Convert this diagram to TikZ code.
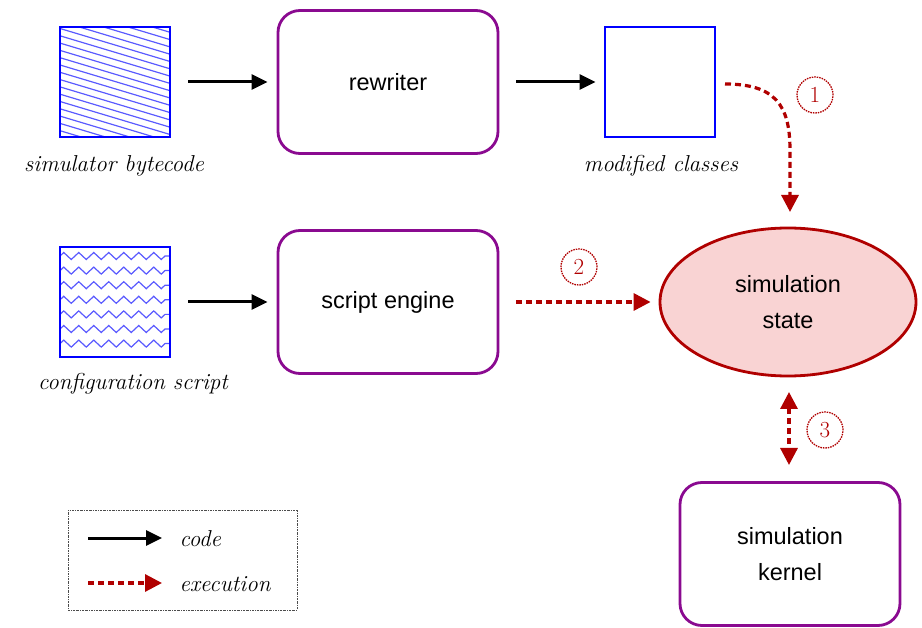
\documentclass[tikz,border=0pt]{standalone}
\usepackage{fontspec}
\setsansfont{Liberation Sans}
\usetikzlibrary{arrows.meta,decorations.pathmorphing,shapes.geometric}
\definecolor{exred}{HTML}{B00000}
\definecolor{pinkfill}{HTML}{F9D3D3}
\definecolor{boxpurple}{HTML}{8A0A90}
\definecolor{hatchblue}{HTML}{5A5AFF}
\tikzset{
  procbox/.style={draw=boxpurple, line width=2.8pt, rounded corners=22pt, minimum width=220pt, minimum height=143pt, font=\sffamily\fontsize{23.5}{36}\selectfont, align=center},
  filebox/.style={draw=blue, line width=2.8pt, minimum width=110pt, minimum height=110pt, inner sep=0pt},
  flabel/.style={font=\itshape\fontsize{23}{26}\selectfont\addfontfeature{LetterSpace=10}},
  codearrow/.style={-{Triangle[length=16pt,width=15pt]}, line width=3pt, black},
  execarrow/.style={-{Triangle[length=17pt,width=17pt]}, line width=3.2pt, exred, dash pattern=on 6pt off 4pt},
  stepnum/.style={circle, draw=exred, dash pattern=on 1.5pt off 1pt, line width=1.3pt, minimum size=36pt, inner sep=0pt, text=exred, font=\fontsize{23}{23}\selectfont}
}
\begin{document}
\begin{tikzpicture}[x=1pt,y=-1pt]
\useasboundingbox (0,0) rectangle (922,628);

% file hatching
\begin{scope}
  \clip (60,27) rectangle (170,137);
  \foreach \i in {-6,...,22} {
    \draw[hatchblue, line width=1.2pt] (55,{27+7.3*\i}) -- (175,{27+7.3*\i+36});
  }
\end{scope}
\begin{scope}
  \clip (60,247) rectangle (170,357);
  \foreach \i in {0,...,6} {
    \draw[hatchblue, line width=1.2pt, decorate, decoration={zigzag, segment length=15pt, amplitude=3.5pt}] (60,{256+14.6*\i}) -- (172,{256+14.6*\i});
  }
\end{scope}
\node[filebox] (bc) at (115,82) {};
\node[filebox] (mc) at (660,82) {};
\node[filebox] (cs) at (115,302) {};

\node[flabel] (bcl) at (114,166) {simulator bytecode};
\node[flabel] (mcl) at (661,166) {modified classes};
\node[flabel] (csl) at (133,384) {configuration script};

% process boxes
\node[procbox] (rw) at (388,82) {rewriter};
\node[procbox] (se) at (388,302) {script engine};
\node[procbox] (sk) at (790,554) {simulation\\kernel};

% state
\node[ellipse, draw=exred, fill=pinkfill, line width=2.8pt, minimum width=256pt, minimum height=148pt, font=\sffamily\fontsize{23.5}{36}\selectfont, align=center] (st) at (788,302) {simulation\\state};

% code arrows
\draw[codearrow, shorten <=17pt, shorten >=9pt] (bc.east) -- (rw.west);
\draw[codearrow, shorten <=17pt, shorten >=8pt] (rw.east) -- (mc.west);
\draw[codearrow, shorten <=17pt, shorten >=9pt] (cs.east) -- (se.west);

% exec arrows
\coordinate (c1s) at (725,84);
\coordinate (c1e) at (790,212);
\draw[execarrow] (c1s) .. controls (775,84) and (790,105) .. (790,150) -- (c1e);
\draw[execarrow, shorten <=17pt, shorten >=8pt] (se.east) -- (st.west);
\coordinate (d3a) at (789,392);
\coordinate (d3b) at (789,465);
\draw[execarrow, {Triangle[length=17pt,width=17pt]}-{Triangle[length=17pt,width=17pt]}] (d3a) -- (d3b);

\node[stepnum] (n1) at (815,95) {1};
\node[stepnum] (n2) at (579,267) {2};
\node[stepnum] (n3) at (825,430) {3};

% legend
\node[draw=black!70, line width=0.8pt, dash pattern=on 2pt off 1pt on 0.6pt off 1pt, minimum width=229pt, minimum height=100pt] (lg) at (182.5,560) {};
\coordinate (l1a) at (88,538);
\coordinate (l1b) at (162,538);
\coordinate (l2a) at (88,583);
\coordinate (l2b) at (162,583);
\draw[codearrow] (l1a) -- (l1b);
\draw[execarrow] (l2a) -- (l2b);
\node[flabel, anchor=west] (lc) at (176,539) {code};
\node[flabel, anchor=west] (le) at (176,584) {execution};
\end{tikzpicture}
\end{document}
